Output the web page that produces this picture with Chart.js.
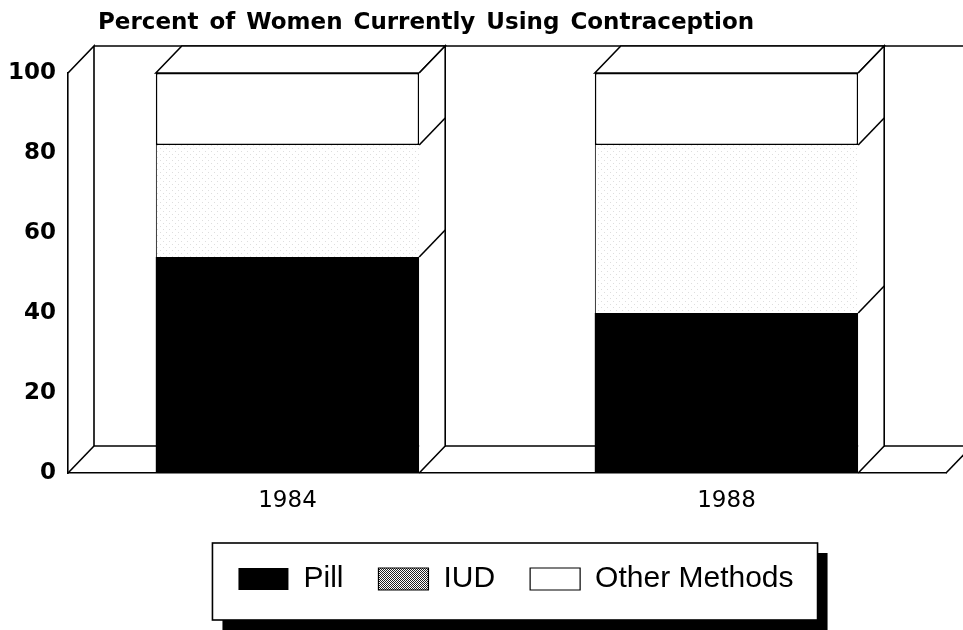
<!DOCTYPE html>
<html lang="en">
<head>
<meta charset="UTF-8">
<title>Percent of Women Currently Using Contraception</title>
<script src="https://cdn.jsdelivr.net/npm/chart.js@4.4.1/dist/chart.umd.min.js"></script>
<style>
  html, body { margin: 0; padding: 0; background: #fff; }
  .wrap { position: relative; width: 963px; height: 630px; overflow: hidden; }
  .title {
    position: absolute; left: 98px; top: 10px;
    font: bold 23px "DejaVu Sans", sans-serif; line-height: 23px;
    word-spacing: 3px; color: #000; white-space: nowrap;
  }
  canvas { position: absolute; left: 0; top: 0; }
</style>
</head>
<body>
<div class="wrap">
  <canvas id="chart" width="963" height="630"></canvas>
  <div class="title">Percent of Women Currently Using Contraception</div>
</div>
<script>
  const years = ['1984', '1988'];
  const seriesNames = ['Pill', 'IUD', 'Other Methods'];
  const pill = [54, 40];
  const iud = [28, 42];
  const other = [18, 18];
  const yTicks = [0, 20, 40, 60, 80, 100];

  // depth of the fake 3d boxes
  const DX = 26, DY = -27;
  const LW = 1.6;
  const LEGEND_SHIFT = 9;

  function makePattern(size, dots, bg, fg) {
    const c = document.createElement('canvas');
    c.width = size; c.height = size;
    const g = c.getContext('2d');
    g.fillStyle = bg; g.fillRect(0, 0, size, size);
    g.fillStyle = fg;
    dots.forEach(d => g.fillRect(d[0], d[1], 1, 1));
    return g.createPattern(c, 'repeat');
  }
  // faint halftone inside the bars, denser checker in the legend swatch
  const iudBar = makePattern(6, [[1, 1], [4, 4]], '#fff', '#dedede');
  const iudKey = makePattern(2, [[0, 0], [1, 1]], '#fff', '#222');
  const keyFills = ['#000', iudKey, '#fff'];

  function path(ctx, pts, close) {
    ctx.beginPath();
    ctx.moveTo(pts[0][0], pts[0][1]);
    for (let i = 1; i < pts.length; i++) ctx.lineTo(pts[i][0], pts[i][1]);
    if (close) ctx.closePath();
  }

  const box3d = {
    id: 'box3d',
    afterLayout(chart) {
      const lg = chart.legend;
      if (lg) { lg.left += LEGEND_SHIFT; lg.right += LEGEND_SHIFT; }
    },
    beforeDraw(chart) {
      // legend frame with drop shadow
      const lg = chart.legend;
      if (!lg || !lg.lineWidths) return;
      const ctx = chart.ctx;
      const pad = lg.options.labels.padding;
      const start = (lg.left + pad + lg.right - lg.lineWidths[0]) / 2;
      const end = start + lg.lineWidths[0] - pad;
      const itemY = lg.top + pad;
      const x0 = start - 26, x1 = end + 24, y0 = itemY - 21, y1 = itemY + 56;
      ctx.save();
      ctx.fillStyle = '#000';
      ctx.fillRect(x0 + 10, y0 + 10, x1 - x0, y1 - y0);
      ctx.fillStyle = '#fff';
      ctx.fillRect(x0, y0, x1 - x0, y1 - y0);
      ctx.strokeStyle = '#000';
      ctx.lineWidth = LW;
      ctx.strokeRect(x0, y0, x1 - x0, y1 - y0);
      ctx.restore();
    },
    beforeDatasetsDraw(chart) {
      const {ctx, chartArea: a, scales: {y}} = chart;
      const top = y.getPixelForValue(y.max);
      const base = y.getPixelForValue(0);
      ctx.save();
      ctx.strokeStyle = '#000';
      ctx.lineWidth = LW;
      // left wall
      path(ctx, [[a.left, top], [a.left + DX, top + DY], [a.left + DX, base + DY]]);
      ctx.stroke();
      path(ctx, [[a.left, base], [a.left + DX, base + DY]]);
      ctx.stroke();
      // back wall top edge
      path(ctx, [[a.left + DX, top + DY], [chart.width, top + DY]]);
      ctx.stroke();
      // floor
      path(ctx, [[a.left + DX, base + DY], [a.right + DX, base + DY]]);
      ctx.stroke();
      path(ctx, [[a.right, base], [a.right + DX, base + DY]]);
      ctx.stroke();
      ctx.restore();
    },
    afterDatasetsDraw(chart) {
      const ctx = chart.ctx;
      const metas = chart.getSortedVisibleDatasetMetas();
      const last = metas[metas.length - 1];
      ctx.save();
      ctx.strokeStyle = '#000';
      ctx.lineWidth = LW;
      ctx.fillStyle = '#fff';
      last.data.forEach((bar, i) => {
        const p = bar.getProps(['x', 'y', 'width'], true);
        const L = p.x - p.width / 2, R = p.x + p.width / 2;
        const t = p.y;
        const b = metas[0].data[i].getProps(['base'], true).base;
        // top face
        path(ctx, [[L, t], [L + DX, t + DY], [R + DX, t + DY], [R, t]], true);
        ctx.fill(); ctx.stroke();
        // side face
        path(ctx, [[R, t], [R + DX, t + DY], [R + DX, b + DY], [R, b]], true);
        ctx.fill();
        path(ctx, [[R, t], [R + DX, t + DY], [R + DX, b + DY], [R, b]]);
        ctx.stroke();
        // segment edges on the side face
        metas.slice(0, -1).forEach(m => {
          const yy = m.data[i].getProps(['y'], true).y;
          path(ctx, [[R, yy], [R + DX, yy + DY]]);
          ctx.stroke();
        });
      });
      ctx.restore();
    }
  };

  new Chart(document.getElementById('chart'), {
    type: 'bar',
    data: {
      labels: years,
      datasets: [
        { label: seriesNames[0], data: pill, backgroundColor: '#000', borderWidth: 0 },
        { label: seriesNames[1], data: iud, backgroundColor: iudBar,
          borderColor: '#444', borderWidth: {left: 1.2, top: 0, right: 0, bottom: 0}, borderSkipped: false },
        { label: seriesNames[2], data: other, backgroundColor: '#fff',
          borderColor: '#000', borderWidth: LW, borderSkipped: false }
      ]
    },
    options: {
      responsive: false,
      animation: false,
      devicePixelRatio: 1,
      layout: { padding: { top: 73, right: 17, bottom: 26, left: 0 } },
      datasets: { bar: { categoryPercentage: 1, barPercentage: 0.6 } },
      scales: {
        x: {
          stacked: true,
          grid: { display: false, drawTicks: false },
          border: { display: true, color: '#000', width: LW },
          ticks: { color: '#000', padding: 14, font: { family: '"DejaVu Sans"', size: 23 } },
          afterFit(scale) { scale.height = 56; }
        },
        y: {
          stacked: true,
          min: 0, max: 100,
          grid: { display: false, drawTicks: false },
          border: { display: true, color: '#000', width: LW },
          afterBuildTicks(scale) { scale.ticks = yTicks.map(v => ({ value: v })); },
          ticks: { color: '#000', padding: 12, font: { family: '"DejaVu Sans"', size: 23, weight: 'bold' } },
          afterFit(scale) { scale.width = 68; }
        }
      },
      plugins: {
        title: { display: false },
        tooltip: { enabled: false },
        legend: {
          position: 'bottom',
          fullSize: false,
          labels: {
            color: '#000',
            boxWidth: 50,
            boxHeight: 22,
            padding: 35,
            font: { family: '"Liberation Sans", Arial, sans-serif', size: 30 },
            generateLabels(chart) {
              return chart.data.datasets.map((ds, i) => ({
                text: ds.label,
                fillStyle: keyFills[i],
                strokeStyle: '#000',
                lineWidth: i === 0 ? 0 : 1.2,
                hidden: false,
                datasetIndex: i
              }));
            }
          }
        }
      }
    },
    plugins: [box3d]
  });
</script>
</body>
</html>
